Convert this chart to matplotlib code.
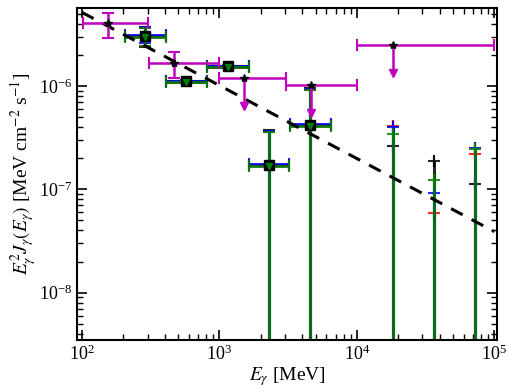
import matplotlib
matplotlib.use('Agg')
import matplotlib.pyplot as plt

plt.rcParams['font.family'] = ['Liberation Serif', 'DejaVu Serif']
plt.rcParams['mathtext.fontset'] = 'stix'

# star points (magenta)
star_x = [154, 469, 1513, 4660, 18200]
star_xlo = [102, 307, 1000, 3030, 10000]
star_xhi = [302, 1000, 3027, 10100, 100000]
star_y = [4.07e-6, 1.67e-6, 1.19e-6, 1.02e-6, 2.5e-6]
star_ylo = [2.93e-6, 1.19e-6, 6.4e-7, 5.5e-7, 1.34e-6]
star_yhi = [5.07e-6, 2.14e-6, 1.19e-6, 1.02e-6, 2.5e-6]
star_ul = [False, False, True, True, True]

# model bins (squares + limits)
bin_x = [289, 570, 1150, 2280, 4570, 18400, 36500, 72400]
bin_xlo = [205, 407, 808, 1640, 3260, 18400, 36500, 72400]
bin_xhi = [407, 808, 1640, 3220, 6450, 18400, 36500, 72400]
floor = 1e-11

black_y = [3.06e-6, 1.11e-6, 1.55e-6, 1.73e-7, 4.2e-7, 2.63e-7, 1.88e-7, 1.13e-7]
black_yhi = [3.72e-6, 1.14e-6, 1.6e-6, 3.75e-7, 9.5e-7, 2.63e-7, 1.88e-7, 1.13e-7]
black_ylo = [2.4e-6, 1.08e-6, 1.5e-6, floor, floor, floor, floor, floor]

red_y = [3.04e-6, 1.10e-6, 1.54e-6, 1.72e-7, 4.15e-7, 4.13e-7, 5.9e-8, 2.2e-7]
red_yhi = [3.66e-6, 1.13e-6, 1.59e-6, 3.62e-7, 9.2e-7, 4.13e-7, 5.9e-8, 2.2e-7]
red_ylo = [2.45e-6, 1.07e-6, 1.5e-6, floor, floor, floor, floor, floor]

blue_y = [3.1e-6, 1.12e-6, 1.57e-6, 1.76e-7, 4.25e-7, 4.0e-7, 9.2e-8, 2.53e-7]
blue_yhi = [3.68e-6, 1.15e-6, 1.6e-6, 3.65e-7, 9.3e-7, 4.0e-7, 9.2e-8, 2.53e-7]
blue_ylo = [2.58e-6, 1.09e-6, 1.52e-6, floor, floor, floor, floor, floor]

green_y = [3.0e-6, 1.09e-6, 1.53e-6, 1.69e-7, 4.1e-7, 3.43e-7, 1.22e-7, 2.46e-7]
green_yhi = [3.62e-6, 1.12e-6, 1.58e-6, 3.6e-7, 9.1e-7, 3.43e-7, 1.22e-7, 2.46e-7]
green_ylo = [2.45e-6, 1.06e-6, 1.49e-6, floor, floor, floor, floor, floor]

n_marked = 5

# power-law line
line_x = [100, 100000]
line_y = [5.15e-6, 3.9e-8]

fig = plt.figure(figsize=(5.1, 3.92), dpi=100)
ax = fig.add_axes([0.151, 0.133, 0.824, 0.847])
ax.set_xscale('log')
ax.set_yscale('log')

models = [(black_y, black_ylo, black_yhi, 'black'),
          (red_y, red_ylo, red_yhi, 'red'),
          (blue_y, blue_ylo, blue_yhi, 'blue'),
          (green_y, green_ylo, green_yhi, 'green')]
for ys, ylo, yhi, c in models:
    xerr = [[x - lo for x, lo in zip(bin_x, bin_xlo)],
            [hi - x for x, hi in zip(bin_x, bin_xhi)]]
    yerr = [[y - lo for y, lo in zip(ys, ylo)],
            [hi - y for y, hi in zip(ys, yhi)]]
    ax.errorbar(bin_x, ys, xerr=xerr, yerr=yerr, fmt='none', ecolor=c,
                elinewidth=2.2, capsize=4, capthick=1.5, alpha=0.85, zorder=2)

ax.plot(bin_x[:n_marked], black_y[:n_marked], 's', color='black', ms=7, zorder=4)
ax.plot(bin_x[:n_marked], green_y[:n_marked], 'v', color='green', ms=4, zorder=5)

ax.plot(line_x, line_y, color='black', lw=2.2, dashes=(4.3, 3.3), zorder=3)

# stars: horizontal bars for all, vertical bars with caps for measured points
sxerr = [[x - lo for x, lo in zip(star_x, star_xlo)],
         [hi - x for x, hi in zip(star_x, star_xhi)]]
ax.errorbar(star_x, star_y, xerr=sxerr, fmt='none', ecolor='m',
            elinewidth=1.8, capsize=4, capthick=1.5, zorder=6)
m_x = [x for x, u in zip(star_x, star_ul) if not u]
m_y = [y for y, u in zip(star_y, star_ul) if not u]
m_err = [[y - lo for y, lo, u in zip(star_y, star_ylo, star_ul) if not u],
         [hi - y for y, hi, u in zip(star_y, star_yhi, star_ul) if not u]]
ax.errorbar(m_x, m_y, yerr=m_err, fmt='none', ecolor='m',
            elinewidth=1.8, capsize=4, capthick=1.5, zorder=6)
ul_x = [x for x, u in zip(star_x, star_ul) if u]
ul_top = [y for y, u in zip(star_y, star_ul) if u]
ul_y = [y for y, u in zip(star_ylo, star_ul) if u]
ax.vlines(ul_x, ul_y, ul_top, color='m', lw=1.8, zorder=6)
ax.plot(ul_x, ul_y, 'v', color='m', ms=6, zorder=6)
ax.plot(star_x, star_y, '*', color='black', ms=6, zorder=7)

ax.set_xlim(92, 105000)
ax.set_ylim(3.5e-9, 5.7e-6)
ax.tick_params(which='both', direction='in', top=True, right=True, labelsize=13)
ax.tick_params(which='major', length=7, width=1.2)
ax.tick_params(which='minor', length=4, width=1)
for s in ax.spines.values():
    s.set_linewidth(1.5)

ax.set_xlabel(r'$E_\gamma$ [MeV]', fontsize=14, labelpad=1)
ax.set_ylabel(r'$E_\gamma^2 J_\gamma(E_\gamma)$ [MeV cm$^{-2}$ s$^{-1}$]', fontsize=14, labelpad=0)

fig.savefig('out.png', dpi=100)
